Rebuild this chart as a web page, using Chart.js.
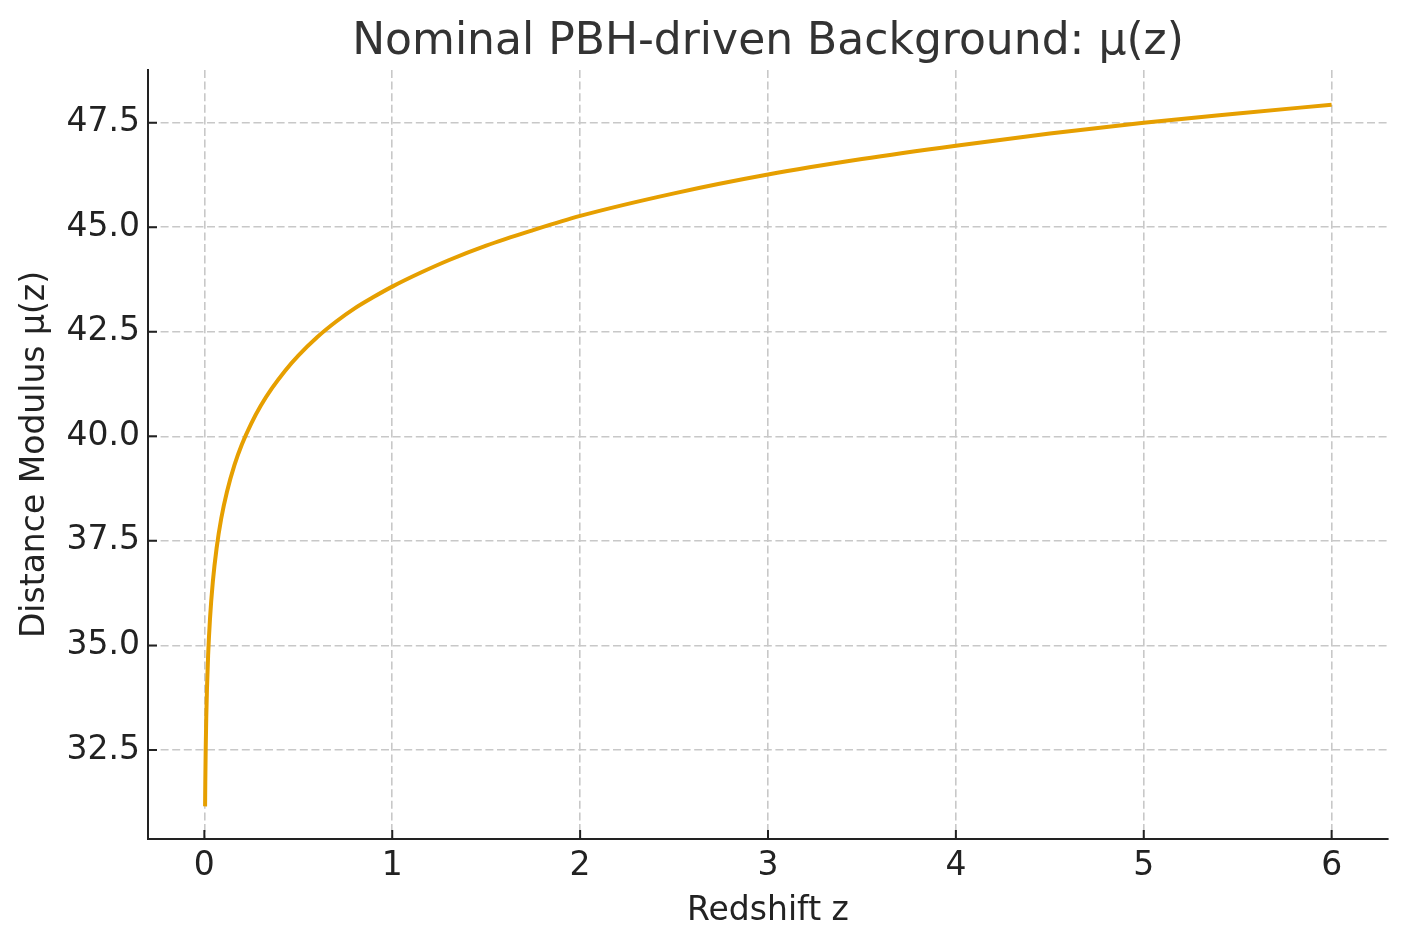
<!DOCTYPE html>
<html>
<head>
<meta charset="utf-8">
<title>Nominal PBH-driven Background</title>
<script src="https://cdn.jsdelivr.net/npm/chart.js@4.4.1/dist/chart.umd.min.js"></script>
<style>
  html, body { margin: 0; padding: 0; background: #fff; }
  canvas { display: block; }
</style>
</head>
<body>
<canvas id="muChart" width="1408" height="947"></canvas>
<script>
// redshift samples and distance modulus
const zValues = [0.0038, 0.005, 0.007, 0.01, 0.014, 0.02, 0.03, 0.045, 0.065, 0.09,
  0.12, 0.16, 0.2, 0.25, 0.3, 0.36, 0.43, 0.5, 0.6, 0.7,
  0.8, 0.9, 1.0, 1.15, 1.3, 1.5, 1.75, 2.0, 2.5, 3.0,
  3.5, 4.0, 4.5, 5.0, 5.5, 6.0];
const muValues = [31.15, 31.75, 32.48, 33.25, 33.98, 34.76, 35.64, 36.52, 37.32, 38.04,
  38.67, 39.31, 39.81, 40.31, 40.73, 41.15, 41.57, 41.93, 42.37, 42.74,
  43.06, 43.33, 43.58, 43.91, 44.21, 44.56, 44.93, 45.27, 45.81, 46.26,
  46.63, 46.95, 47.24, 47.5, 47.72, 47.93];

const xTicks = [0, 1, 2, 3, 4, 5, 6];
const yTicks = [32.5, 35.0, 37.5, 40.0, 42.5, 45.0, 47.5];

const FONT = "'DejaVu Sans', 'Liberation Sans', sans-serif";
const INK = '#222222';

// matplotlib-style ticks pointing into the plot
const inwardTicks = {
  id: 'inwardTicks',
  afterDraw(chart) {
    const {ctx, chartArea, scales: {x, y}} = chart;
    ctx.save();
    ctx.strokeStyle = INK;
    ctx.lineWidth = 2;
    ctx.beginPath();
    x.ticks.forEach(t => {
      const px = x.getPixelForValue(t.value);
      ctx.moveTo(px, chartArea.bottom);
      ctx.lineTo(px, chartArea.bottom - 9);
    });
    y.ticks.forEach(t => {
      const py = y.getPixelForValue(t.value);
      ctx.moveTo(chartArea.left, py);
      ctx.lineTo(chartArea.left + 9, py);
    });
    ctx.stroke();
    ctx.restore();
  }
};

const gridOpts = {
  color: '#c8c8c8',
  lineWidth: 1.6,
  drawTicks: false
};
const borderOpts = {
  color: INK,
  width: 2,
  dash: [8, 3.6]
};

const config = {
  type: 'line',
  data: {
    datasets: [{
      label: 'mu(z)',
      data: zValues.map((z, i) => ({x: z, y: muValues[i]})),
      borderColor: '#E69F00',
      borderWidth: 4,
      pointRadius: 0,
      fill: false,
      cubicInterpolationMode: 'monotone'
    }]
  },
  options: {
    responsive: false,
    devicePixelRatio: 1,
    animation: false,
    layout: { padding: { left: 0, right: 20, top: 0, bottom: 0 } },
    plugins: {
      legend: { display: false },
      tooltip: { enabled: false },
      title: {
        display: true,
        text: 'Nominal PBH-driven Background: μ(z)',
        fullSize: false,
        color: '#333333',
        font: { family: FONT, size: 44, weight: 'normal', lineHeight: 1.2 },
        padding: { top: 16, bottom: 1.2 }
      }
    },
    scales: {
      x: {
        type: 'linear',
        min: -0.3,
        max: 6.3,
        afterBuildTicks: s => { s.ticks = xTicks.map(v => ({value: v})); },
        afterFit: s => { s.height = 108; },
        grid: gridOpts,
        border: borderOpts,
        ticks: {
          color: INK,
          padding: 8,
          maxRotation: 0,
          font: { family: FONT, size: 33, lineHeight: 1.2 },
          callback: v => String(v)
        },
        title: {
          display: true,
          text: 'Redshift z',
          color: INK,
          font: { family: FONT, size: 33, lineHeight: 1.2 },
          padding: { top: 0, bottom: 15.6 }
        }
      },
      y: {
        type: 'linear',
        min: 30.37,
        max: 48.76,
        afterBuildTicks: s => { s.ticks = yTicks.map(v => ({value: v})); },
        afterFit: s => { s.width = 148; },
        grid: gridOpts,
        border: borderOpts,
        ticks: {
          color: INK,
          padding: 8,
          font: { family: FONT, size: 33, lineHeight: 1.2 },
          callback: v => Number(v).toFixed(1)
        },
        title: {
          display: true,
          text: 'Distance Modulus μ(z)',
          color: INK,
          font: { family: FONT, size: 33, lineHeight: 1.2 },
          padding: { top: 16, bottom: 0 }
        }
      }
    }
  },
  plugins: [inwardTicks]
};

const muChart = new Chart(document.getElementById('muChart'), config);
</script>
</body>
</html>
